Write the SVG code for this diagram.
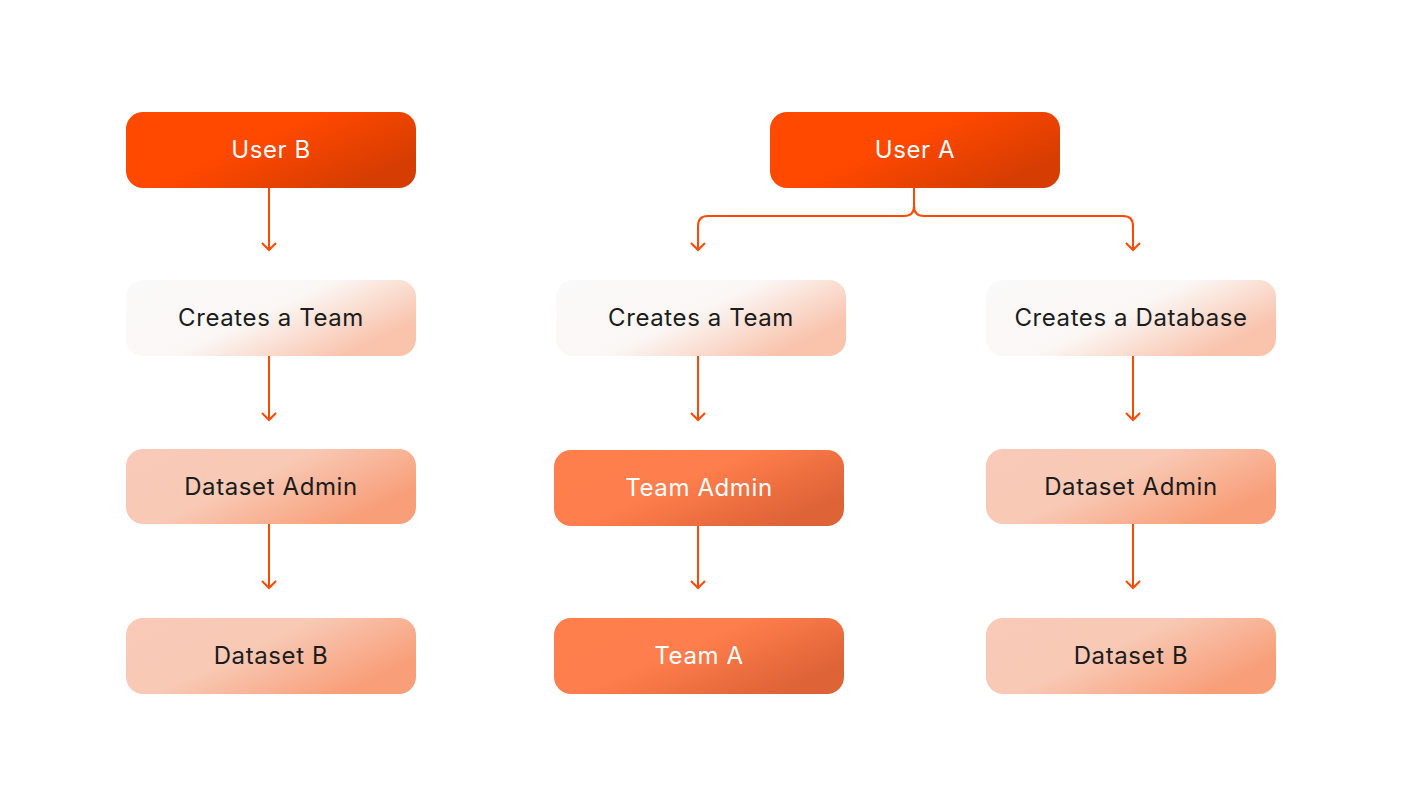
<svg xmlns="http://www.w3.org/2000/svg" width="1404" height="808" viewBox="0 0 1404 808">
<defs>
<linearGradient id="gUser" x1="0" y1="0" x2="1" y2="0.6">
<stop offset="0" stop-color="#FF4A00"/><stop offset="0.5" stop-color="#FF4800"/><stop offset="1" stop-color="#D63D02"/>
</linearGradient>
<linearGradient id="gCreate" x1="0" y1="0" x2="1" y2="0.55">
<stop offset="0" stop-color="#FAFAFA"/><stop offset="0.55" stop-color="#FBF7F5"/><stop offset="1" stop-color="#F9C3AC"/>
</linearGradient>
<linearGradient id="gData" x1="0" y1="0" x2="1" y2="0.55">
<stop offset="0" stop-color="#F8CAB7"/><stop offset="0.5" stop-color="#F8C9B5"/><stop offset="1" stop-color="#F89E78"/>
</linearGradient>
<linearGradient id="gTeam" x1="0" y1="0" x2="1" y2="0.6">
<stop offset="0" stop-color="#FF7F4C"/><stop offset="0.5" stop-color="#FF7E4D"/><stop offset="1" stop-color="#DE6336"/>
</linearGradient>
<marker id="arr" viewBox="0 0 10 16" refX="8" refY="8" markerWidth="10" markerHeight="16" markerUnits="userSpaceOnUse" orient="auto">
<path d="M1,1 L8,8 L1,15" fill="none" stroke="#FF4800" stroke-width="2"/>
</marker>
</defs>
<style>
.lbl{font-family:"Inter","Noto Sans","Liberation Sans",sans-serif;font-size:24px;letter-spacing:0.6px;text-anchor:middle;dominant-baseline:central}
.w{fill:#FFFFFF}
.d{fill:#1C1C1C}
.c{fill:none;stroke:#FF4800;stroke-width:2}
</style>
<rect width="1404" height="808" fill="#FFFFFF"/>
<g id="connectors">
<path class="c" d="M269,188 V250" marker-end="url(#arr)"/>
<path class="c" d="M269,356 V420" marker-end="url(#arr)"/>
<path class="c" d="M269,524 V588" marker-end="url(#arr)"/>
<path class="c" d="M914,188 V206 Q914,216 904,216 H708 Q698,216 698,226 V250" marker-end="url(#arr)"/>
<path class="c" d="M914,206 Q914,216 924,216 H1123 Q1133,216 1133,226 V250" marker-end="url(#arr)"/>
<path class="c" d="M698,356 V420" marker-end="url(#arr)"/>
<path class="c" d="M698,526 V588" marker-end="url(#arr)"/>
<path class="c" d="M1133,356 V420" marker-end="url(#arr)"/>
<path class="c" d="M1133,524 V588" marker-end="url(#arr)"/>
</g>
<g id="userB"><rect x="126" y="112" width="290" height="76" rx="17" fill="url(#gUser)"/><text class="lbl w" x="271" y="149">User B</text></g>
<g id="userA"><rect x="770" y="112" width="290" height="76" rx="17" fill="url(#gUser)"/><text class="lbl w" x="915" y="149">User A</text></g>
<g id="createsTeamB"><rect x="126" y="280" width="290" height="76" rx="17" fill="url(#gCreate)"/><text class="lbl d" x="271" y="317">Creates a Team</text></g>
<g id="createsTeamA"><rect x="556" y="280" width="290" height="76" rx="17" fill="url(#gCreate)"/><text class="lbl d" x="701" y="317">Creates a Team</text></g>
<g id="createsDatabase"><rect x="986" y="280" width="290" height="76" rx="17" fill="url(#gCreate)"/><text class="lbl d" x="1131" y="317">Creates a Database</text></g>
<g id="datasetAdminB"><rect x="126" y="449" width="290" height="75" rx="17" fill="url(#gData)"/><text class="lbl d" x="271" y="486">Dataset Admin</text></g>
<g id="teamAdmin"><rect x="554" y="450" width="290" height="76" rx="17" fill="url(#gTeam)"/><text class="lbl w" x="699" y="487">Team Admin</text></g>
<g id="datasetAdminA"><rect x="986" y="449" width="290" height="75" rx="17" fill="url(#gData)"/><text class="lbl d" x="1131" y="486">Dataset Admin</text></g>
<g id="datasetB1"><rect x="126" y="618" width="290" height="76" rx="17" fill="url(#gData)"/><text class="lbl d" x="271" y="655">Dataset B</text></g>
<g id="teamA"><rect x="554" y="618" width="290" height="76" rx="17" fill="url(#gTeam)"/><text class="lbl w" x="699" y="655">Team A</text></g>
<g id="datasetB2"><rect x="986" y="618" width="290" height="76" rx="17" fill="url(#gData)"/><text class="lbl d" x="1131" y="655">Dataset B</text></g>
</svg>
